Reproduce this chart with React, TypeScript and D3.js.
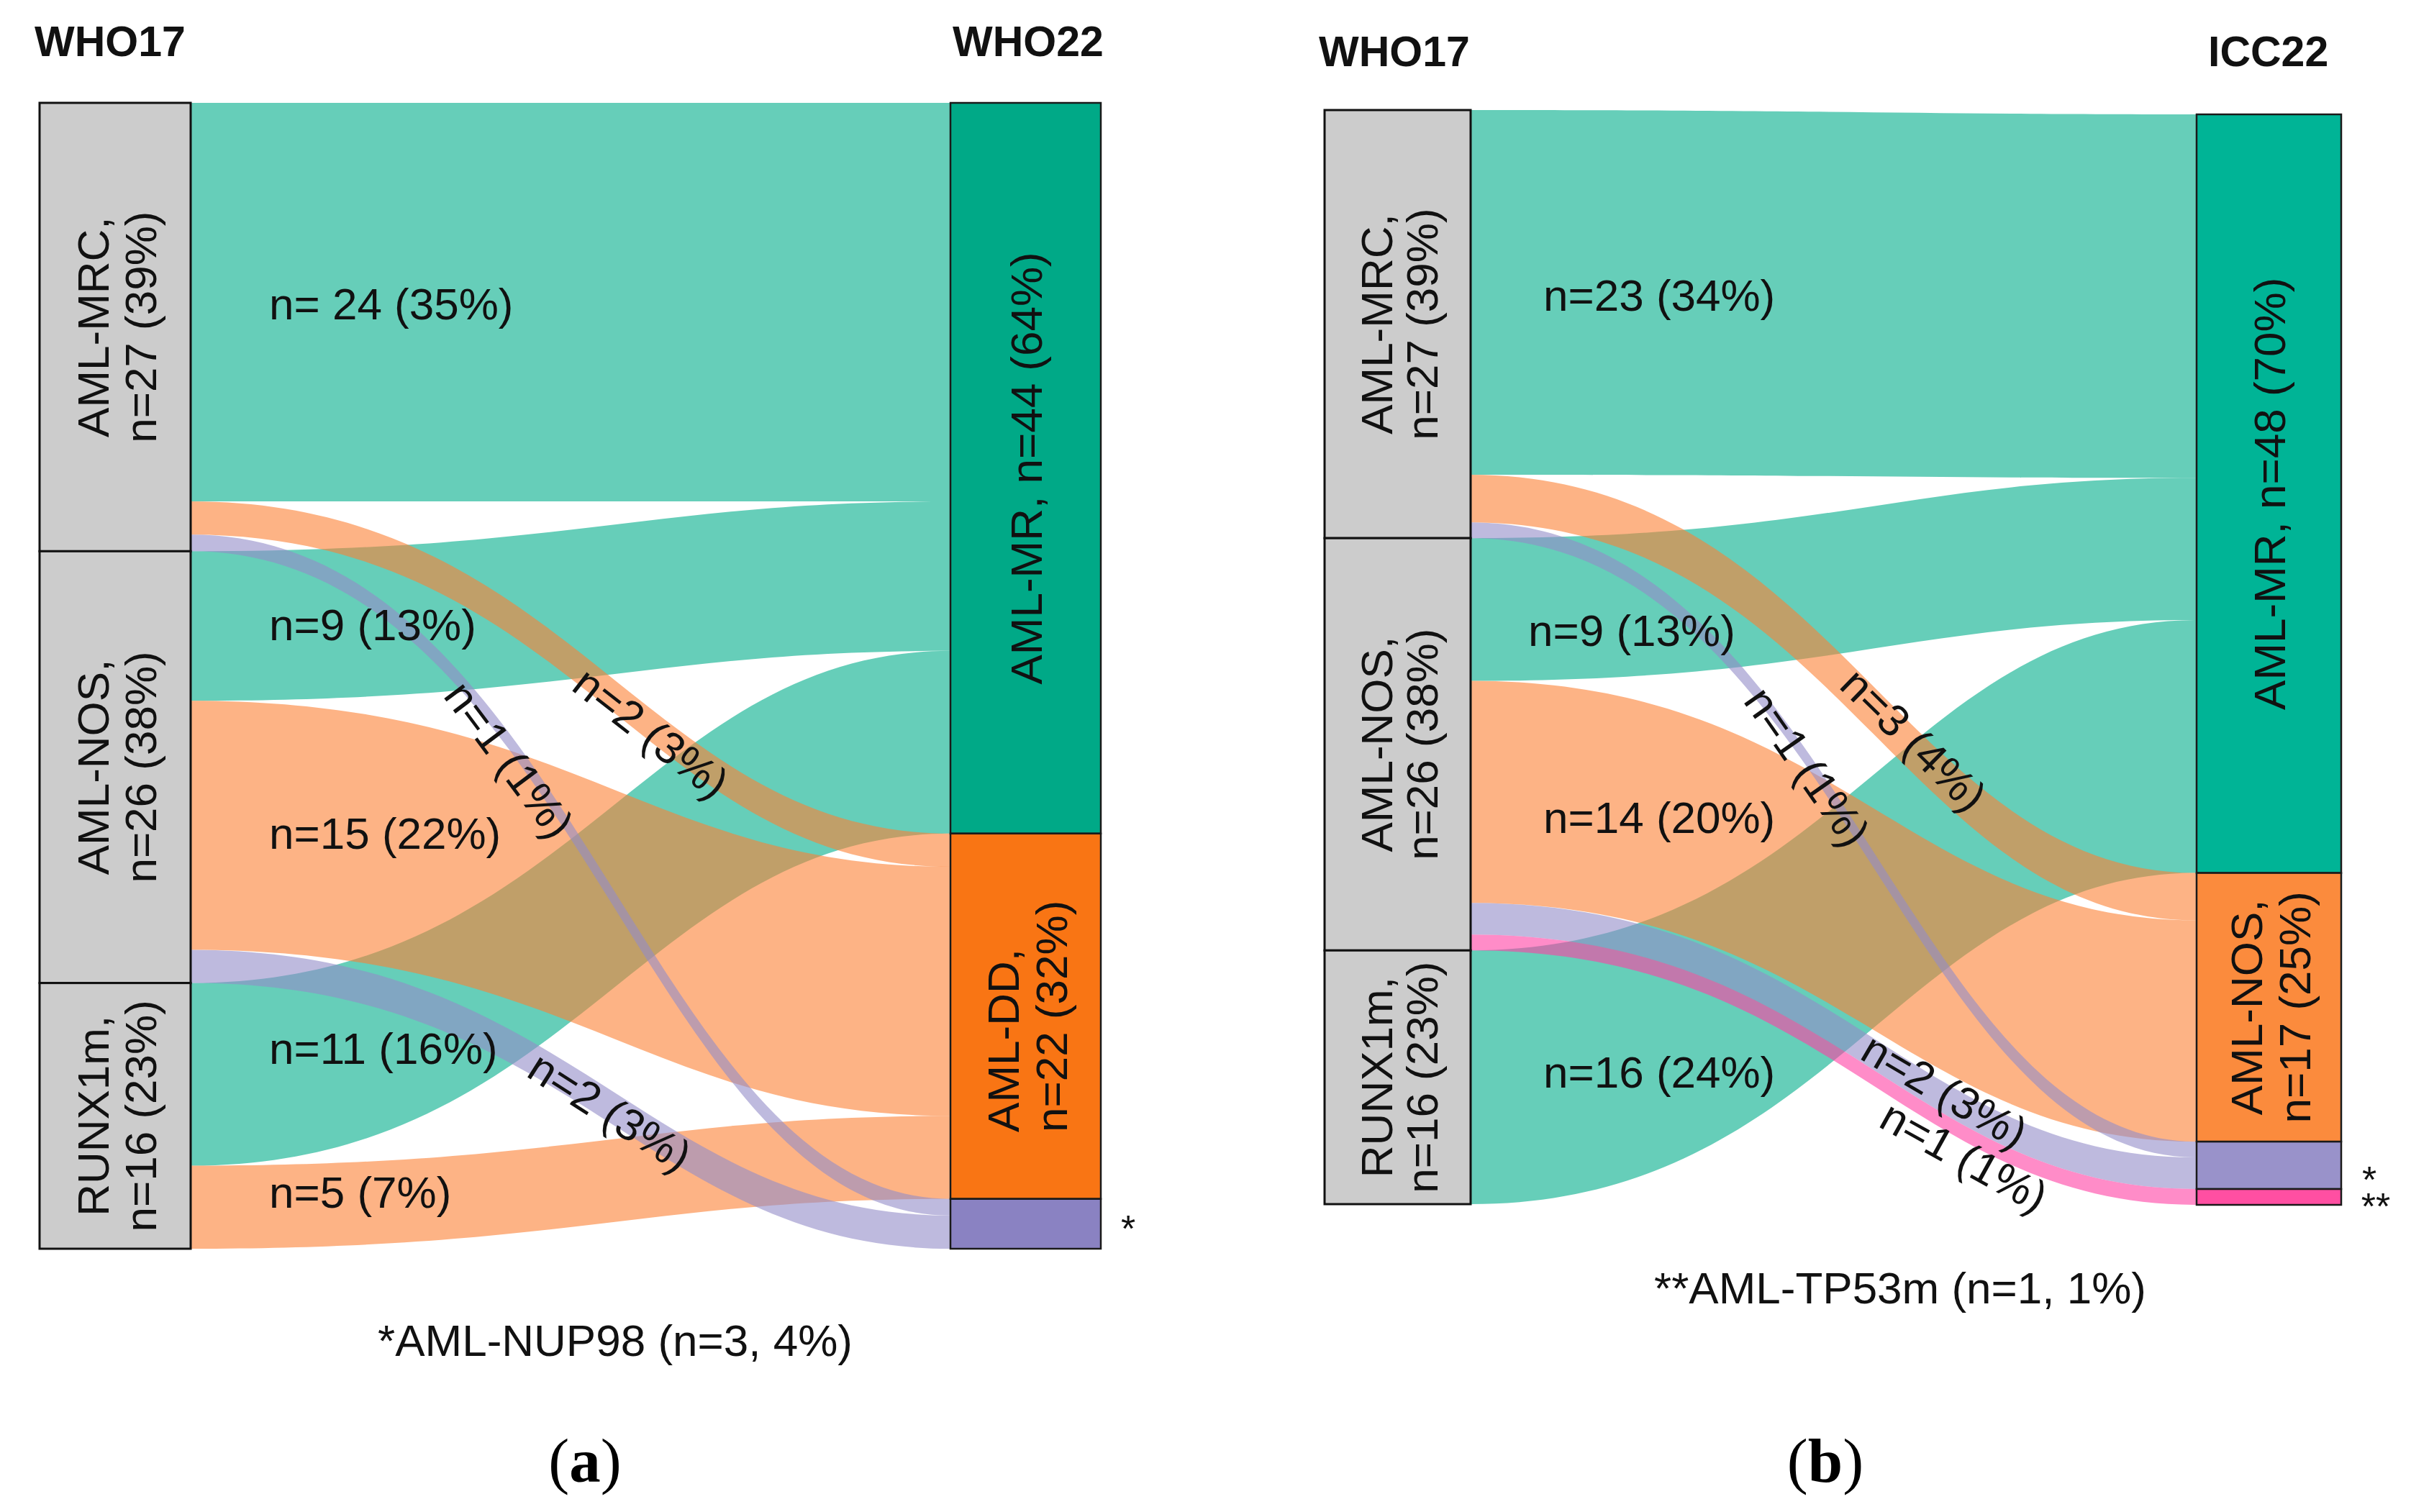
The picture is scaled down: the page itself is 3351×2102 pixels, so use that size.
import React, { useMemo } from "react";
import * as d3 from "d3";

// ---------------- DATA ----------------
const leftCategories = ["AML-MRC", "AML-NOS", "RUNX1m"];
const leftCounts = [27, 26, 16];
const leftLabelLines = [
  ["AML-MRC,", "n=27 (39%)"],
  ["AML-NOS,", "n=26 (38%)"],
  ["RUNX1m,", "n=16 (23%)"],
];

const who22Categories = ["AML-MR", "AML-DD", "AML-NUP98"];
const who22LabelLines = [["AML-MR, n=44 (64%)"], ["AML-DD,", "n=22 (32%)"], []];

const icc22Categories = ["AML-MR", "AML-NOS", "AML-NUP98", "AML-TP53m"];
const icc22LabelLines = [["AML-MR, n=48 (70%)"], ["AML-NOS,", "n=17 (25%)"], [], []];

// flows: [source index, target index, n]
const flowsA: [number, number, number][] = [
  [0, 0, 24], [0, 1, 2], [0, 2, 1],
  [1, 0, 9], [1, 1, 15], [1, 2, 2],
  [2, 0, 11], [2, 1, 5],
];
const flowsB: [number, number, number][] = [
  [0, 0, 23], [0, 1, 3], [0, 2, 1],
  [1, 0, 9], [1, 1, 14], [1, 2, 2], [1, 3, 1],
  [2, 0, 16],
];
const flowLabelsA = ["n= 24 (35%)", "n=2 (3%)", "n=1 (1%)", "n=9 (13%)", "n=15 (22%)", "n=2 (3%)", "n=11 (16%)", "n=5 (7%)"];
const flowLabelsB = ["n=23 (34%)", "n=3 (4%)", "n=1 (1%)", "n=9 (13%)", "n=14 (20%)", "n=2 (3%)", "n=1 (1%)", "n=16 (24%)"];

const footnoteA = "*AML-NUP98 (n=3, 4%)";
const footnoteB = "**AML-TP53m (n=1, 1%)";

// ---------------- STYLE / LAYOUT ----------------
const W = 3351;
const H = 2102;
const FS = 62;
const FONT = "'Liberation Sans', Arial, sans-serif";
const LEFT_FILL = "#CCCCCC";
const LINK_OPACITY = 0.6;
const CURVE_A = 0.5;
const CURVE_B = 0.4;

const panelA = {
  leftX: [55, 265], rightX: [1321, 1530],
  leftY: [143, 1736], rightY: [143, 1736],
  nodeColors: ["#00A987", "#F97514", "#8A82C2"],
  linkColors: ["#00AD8A", "#FC8034", "#938CC8"],
  leftLineOff: [-0.15, 0.92],
  rightAlign: ["middle", "start", "middle"],
  // label placement: h = horizontal (offset from left node edge), r = rotated along flow (center x)
  labelPlace: [
    { m: "h", x: 109, dy: 2 }, { m: "r", x: 905, dy: 10 }, { m: "r", x: 708, dy: 25 },
    { m: "h", x: 109, dy: 4 }, { m: "h", x: 109, dy: -13 }, { m: "r", x: 848, dy: 7 },
    { m: "h", x: 109, dy: 10 }, { m: "h", x: 109, dy: -16 },
  ],
  titles: [{ t: "WHO17", x: 48, y: 78 }, { t: "WHO22", x: 1324, y: 78 }],
  stars: [{ t: "*", x: 1568, y: 1726 }],
  foot: { x: 855, y: 1885 },
  letter: { t: "a", x: 813, y: 2060 },
};

const panelB = {
  leftX: [1841, 2044], rightX: [3053, 3254],
  leftY: [153, 1674], rightY: [159, 1675],
  nodeColors: ["#00B496", "#FB8B3D", "#9992CA", "#FF4FA2"],
  linkColors: ["#00AD8A", "#FC8034", "#938CC8", "#FF3FA3"],
  leftLineOff: [-0.12, 0.9],
  rightAlign: ["middle", "middle", "middle", "middle"],
  labelPlace: [
    { m: "h", x: 101, dy: 3 }, { m: "r", x: 2660, dy: -15 }, { m: "r", x: 2512, dy: 10 },
    { m: "h", x: 80, dy: 35 }, { m: "h", x: 101, dy: 0 }, { m: "r", x: 2703, dy: -11 }, { m: "r", x: 2730, dy: 32 },
    { m: "h", x: 101, dy: 41 },
  ],
  titles: [{ t: "WHO17", x: 1833, y: 92 }, { t: "ICC22", x: 3069, y: 92 }],
  stars: [{ t: "*", x: 3293, y: 1658 }, { t: "**", x: 3302, y: 1695 }],
  foot: { x: 2641, y: 1812 },
  letter: { t: "b", x: 2537, y: 2060 },
};

let measureCtx: CanvasRenderingContext2D | null = null;
function textWidth(s: string, size = FS) {
  if (!measureCtx) measureCtx = document.createElement("canvas").getContext("2d");
  if (!measureCtx) return s.length * size * 0.55;
  measureCtx.font = `${size}px 'Liberation Sans'`;
  return measureCtx.measureText(s).width;
}

function bez(p0: number, p1: number, p2: number, p3: number, t: number) {
  const u = 1 - t;
  return u * u * u * p0 + 3 * u * u * t * p1 + 3 * u * t * t * p2 + t * t * t * p3;
}
function bezD(p0: number, p1: number, p2: number, p3: number, t: number) {
  const u = 1 - t;
  return 3 * u * u * (p1 - p0) + 6 * u * t * (p2 - p1) + 3 * t * t * (p3 - p2);
}

function buildPanel(cfg: any, rightCats: string[], flows: [number, number, number][]) {
  const total = d3.sum(leftCounts);
  const ly = d3.scaleLinear().domain([0, total]).range(cfg.leftY);
  const ry = d3.scaleLinear().domain([0, total]).range(cfg.rightY);
  const rightCounts = rightCats.map((_, j) => d3.sum(flows.filter((f) => f[1] === j), (f) => f[2]));
  const lc = [0, ...Array.from(d3.cumsum(leftCounts))];
  const rc = [0, ...Array.from(d3.cumsum(rightCounts))];
  const leftNodes = leftCounts.map((_, i) => ({ y0: ly(lc[i]), y1: ly(lc[i + 1]) }));
  const rightNodes = rightCounts.map((_, j) => ({ y0: ry(rc[j]), y1: ry(rc[j + 1]) }));

  const sCur = lc.slice(0, -1);
  const tCur = rc.slice(0, -1);
  const links = flows.map((f, k) => ({ k, s: f[0], t: f[1], v: f[2], sy0: 0, sy1: 0, ty0: 0, ty1: 0 }));
  [...links].sort((a, b) => a.s - b.s || a.t - b.t).forEach((l) => {
    l.sy0 = ly(sCur[l.s]); sCur[l.s] += l.v; l.sy1 = ly(sCur[l.s]);
  });
  [...links].sort((a, b) => a.t - b.t || a.s - b.s).forEach((l) => {
    l.ty0 = ry(tCur[l.t]); tCur[l.t] += l.v; l.ty1 = ry(tCur[l.t]);
  });

  const x0 = cfg.leftX[1];
  const x1 = cfg.rightX[0];
  const w = x1 - x0;
  const c1 = x0 + CURVE_A * w;
  const c2 = x1 - CURVE_B * w;

  const pathOf = (l: any) => {
    const p = d3.path();
    p.moveTo(x0, l.sy0);
    p.bezierCurveTo(c1, l.sy0, c2, l.ty0, x1, l.ty0);
    p.lineTo(x1, l.ty1);
    p.bezierCurveTo(c2, l.ty1, c1, l.sy1, x0, l.sy1);
    p.closePath();
    return p.toString();
  };
  const bandAt = (l: any, x: number) => {
    let lo = 0, hi = 1;
    for (let i = 0; i < 50; i++) {
      const m = (lo + hi) / 2;
      if (bez(x0, c1, c2, x1, m) < x) lo = m; else hi = m;
    }
    const t = (lo + hi) / 2;
    const a = (l.sy0 + l.sy1) / 2;
    const b = (l.ty0 + l.ty1) / 2;
    const y = bez(a, a, b, b, t);
    const dx = bezD(x0, c1, c2, x1, t);
    const dy = bezD(a, a, b, b, t);
    return { y, angle: (Math.atan2(dy, dx) * 180) / Math.PI };
  };
  return { leftNodes, rightNodes, links, pathOf, bandAt, x0 };
}

function Panel({ cfg, rightCats, rightLines, flows, flowLabels, foot }: any) {
  const L = useMemo(() => buildPanel(cfg, rightCats, flows), [cfg, rightCats, flows]);
  const drawOrder = [...L.links].sort((a, b) => a.t - b.t || a.s - b.s);

  const nodeLabel = (cx: number, cy: number, lines: string[], offs: number[], align: string) => {
    if (!lines.length) return null;
    const ys = lines.length === 1 ? [0.36 * FS] : offs.map((o) => o * FS);
    const maxW = Math.max(...lines.map((s) => textWidth(s)));
    return (
      <g transform={`translate(${cx},${cy}) rotate(-90)`}>
        {lines.map((s, i) => (
          <text key={i} x={align === "start" ? -maxW / 2 : 0} y={ys[i]}
            textAnchor={align === "start" ? "start" : "middle"}
            fontFamily={FONT} fontSize={FS} fill="#111">{s}</text>
        ))}
      </g>
    );
  };

  return (
    <g>
      {drawOrder.map((l) => (
        <path key={l.k} d={L.pathOf(l)} fill={cfg.linkColors[l.t]} fillOpacity={LINK_OPACITY} />
      ))}
      {L.leftNodes.map((n, i) => (
        <g key={"l" + i}>
          <rect x={cfg.leftX[0]} y={n.y0} width={cfg.leftX[1] - cfg.leftX[0]} height={n.y1 - n.y0}
            fill={LEFT_FILL} stroke="#111" strokeWidth={3} />
          {nodeLabel((cfg.leftX[0] + cfg.leftX[1]) / 2, (n.y0 + n.y1) / 2, leftLabelLines[i], cfg.leftLineOff, "middle")}
        </g>
      ))}
      {L.rightNodes.map((n, j) => (
        <g key={"r" + j}>
          <rect x={cfg.rightX[0]} y={n.y0} width={cfg.rightX[1] - cfg.rightX[0]} height={n.y1 - n.y0}
            fill={cfg.nodeColors[j]} stroke="#1a1a1a" strokeWidth={2.5} />
          {nodeLabel((cfg.rightX[0] + cfg.rightX[1]) / 2, (n.y0 + n.y1) / 2, rightLines[j], [-0.15, 0.92], cfg.rightAlign[j])}
        </g>
      ))}
      {L.links.map((l) => {
        const pl = cfg.labelPlace[l.k];
        const txt = flowLabels[l.k];
        if (pl.m === "h") {
          const xs = L.x0 + pl.x;
          const xc = xs + textWidth(txt) / 2;
          const b = L.bandAt(l, xc);
          return (
            <text key={"t" + l.k} x={xs} y={b.y + pl.dy} dy="0.35em" fontFamily={FONT} fontSize={FS} fill="#111">{txt}</text>
          );
        }
        const b = L.bandAt(l, pl.x);
        return (
          <text key={"t" + l.k} transform={`translate(${pl.x},${b.y + pl.dy}) rotate(${b.angle})`}
            textAnchor="middle" dy="0.35em" fontFamily={FONT} fontSize={FS} fill="#111">{txt}</text>
        );
      })}
      {cfg.titles.map((t: any, i: number) => (
        <text key={"ti" + i} x={t.x} y={t.y} fontFamily={FONT} fontWeight="bold" fontSize={59} fill="#111">{t.t}</text>
      ))}
      {cfg.stars.map((s: any, i: number) => (
        <text key={"s" + i} x={s.x} y={s.y} textAnchor="middle" fontFamily={FONT} fontSize={52} fill="#111">{s.t}</text>
      ))}
      <text x={cfg.foot.x} y={cfg.foot.y} textAnchor="middle" fontFamily={FONT} fontSize={FS} fill="#111">{foot}</text>
      <text x={cfg.letter.x} y={cfg.letter.y} textAnchor="middle" fontFamily="'Liberation Serif', 'Times New Roman', serif" fontSize={87} fill="#000">
        (<tspan fontWeight="bold">{cfg.letter.t}</tspan>)
      </text>
    </g>
  );
}

export default function App() {
  return (
    <svg width={W} height={H} viewBox={`0 0 ${W} ${H}`}
      style={{ position: "absolute", left: 0, top: 0, background: "#fff" }}>
      <rect x={0} y={0} width={W} height={H} fill="#fff" />
      <Panel cfg={panelA} rightCats={who22Categories} rightLines={who22LabelLines} flows={flowsA} flowLabels={flowLabelsA} foot={footnoteA} />
      <Panel cfg={panelB} rightCats={icc22Categories} rightLines={icc22LabelLines} flows={flowsB} flowLabels={flowLabelsB} foot={footnoteB} />
    </svg>
  );
}
